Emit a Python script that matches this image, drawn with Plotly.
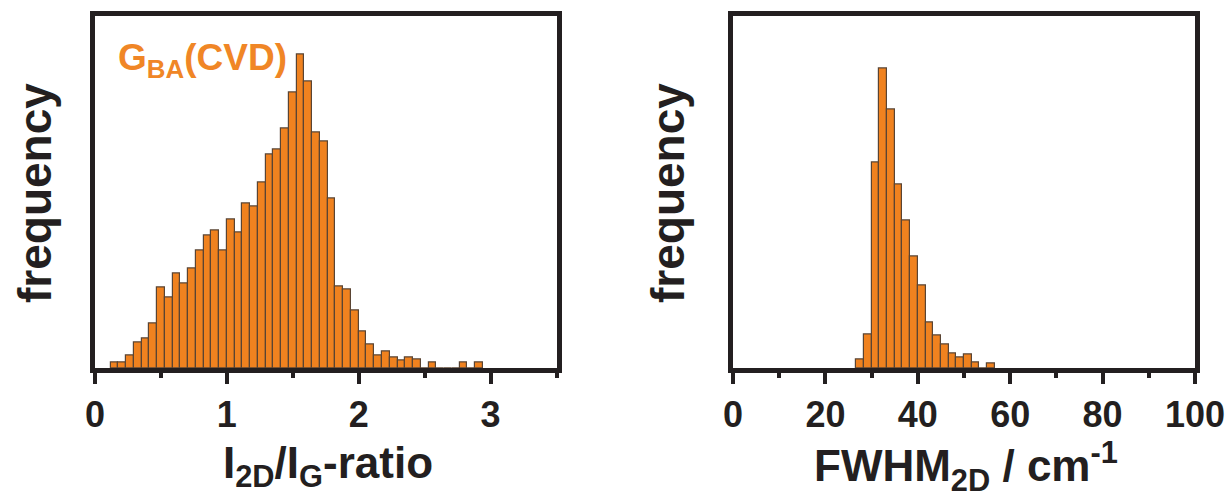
import plotly.graph_objects as go

# ---------------- data ----------------
# Left: I2D/IG-ratio histogram (bin width 1/17, first bin starts at 2/17)
ratio_bin_width = 1 / 17
ratio_first_bin = 2
ratio_counts = [5.7, 5.7, 12.3, 25.3, 29.7, 44.7, 80.7, 70.7, 94.7, 85.0,
                99.7, 118.0, 132.3, 137.3, 118.0, 148.7, 135.7, 164.7, 161.3, 185.7,
                213.7, 218.3, 239.7, 275.3, 314.0, 286.7, 236.0, 226.3, 169.3, 82.0,
                78.7, 57.3, 36.7, 24.0, 12.3, 17.0, 10.7, 7.3, 10.7, 8.7,
                0, 6.0, 0, 0, 0, 6.0, 0, 6.0]
ratio_centers = [(ratio_first_bin + i + 0.5) * ratio_bin_width for i in range(len(ratio_counts))]

# Right: FWHM2D histogram (bin width 5/3 cm-1, first bin starts at 80/3)
fwhm_bin_width = 5 / 3
fwhm_first_edge = 80 / 3
fwhm_counts = [8.7, 33.7, 205.3, 298.3, 257.7, 183.0, 147.0, 111.0, 82.0, 45.0,
               32.3, 23.3, 14.7, 10.3, 13.7, 5.0, 0, 4.7]
fwhm_centers = [fwhm_first_edge + (i + 0.5) * fwhm_bin_width for i in range(len(fwhm_counts))]

ratio_ticks = [0, 1, 2, 3]
fwhm_ticks = [0, 20, 40, 60, 80, 100]

# ---------------- style ----------------
W, H = 1226, 498
BAR_FILL = "#F0821F"
BAR_EDGE = "#5a4433"
FRAME = "#231f20"
FONT = "Liberation Sans, Arial, Helvetica, sans-serif"

def px_x(p):
    return p / W

def px_y(p):
    return 1 - p / H

fig = go.Figure()

fig.add_trace(go.Bar(x=ratio_centers, y=ratio_counts, width=ratio_bin_width,
                     marker=dict(color=BAR_FILL, line=dict(color=BAR_EDGE, width=1.2)),
                     xaxis="x", yaxis="y", showlegend=False))
fig.add_trace(go.Bar(x=fwhm_centers, y=fwhm_counts, width=fwhm_bin_width,
                     marker=dict(color=BAR_FILL, line=dict(color=BAR_EDGE, width=1.2)),
                     xaxis="x2", yaxis="y2", showlegend=False))

y_dom = [px_y(368), px_y(15.5)]

common_x = dict(showline=True, linewidth=5, linecolor=FRAME, mirror=True,
                showgrid=False, zeroline=False, ticks="outside", ticklen=11,
                tickwidth=4, tickcolor=FRAME, automargin=False,
                tickfont=dict(family=FONT, size=36, color=FRAME, weight="bold"))
common_y = dict(showline=True, linewidth=5, linecolor=FRAME, mirror=True,
                showgrid=False, zeroline=False, showticklabels=False, ticks="",
                automargin=False)

fig.update_layout(
    template="none",
    width=W, height=H,
    margin=dict(l=0, r=0, t=0, b=0, autoexpand=False),
    paper_bgcolor="white", plot_bgcolor="white",
    bargap=0,
    xaxis=dict(domain=[px_x(95), px_x(556.5)], range=[0, 3.5],
               tickvals=ratio_ticks, ticktext=[str(v) for v in ratio_ticks],
               minor=dict(ticks="outside", dtick=0.5, tick0=0, ticklen=5, tickwidth=4, tickcolor=FRAME),
               anchor="y", **common_x),
    yaxis=dict(domain=y_dom, range=[0, 352.5], anchor="x", **common_y),
    xaxis2=dict(domain=[px_x(733), px_x(1195)], range=[0, 100],
                tickvals=fwhm_ticks, ticktext=[str(v) for v in fwhm_ticks],
                minor=dict(ticks="outside", dtick=10, tick0=0, ticklen=5, tickwidth=4, tickcolor=FRAME),
                anchor="y2", **common_x),
    yaxis2=dict(domain=y_dom, range=[0, 351.5], anchor="x2", **common_y),
)

title_font = dict(family=FONT, size=44, color=FRAME, weight="bold")
freq_font = dict(family=FONT, size=46, color=FRAME, weight="bold")

annotations = [
    dict(text="I<sub>2D</sub>/I<sub>G</sub>-ratio", x=px_x(328), y=px_y(466),
         xref="paper", yref="paper", xanchor="center", yanchor="middle",
         showarrow=False, font=title_font),
    dict(text="FWHM<sub>2D</sub> / cm<sup>-1</sup>", x=px_x(966), y=px_y(466),
         xref="paper", yref="paper", xanchor="center", yanchor="middle",
         showarrow=False, font=title_font),
    dict(text="frequency", x=px_x(35), y=px_y(193), textangle=-90,
         xref="paper", yref="paper", xanchor="center", yanchor="middle",
         showarrow=False, font=freq_font),
    dict(text="frequency", x=px_x(668), y=px_y(193), textangle=-90,
         xref="paper", yref="paper", xanchor="center", yanchor="middle",
         showarrow=False, font=freq_font),
    dict(text="G<sub>BA</sub>(CVD)", x=px_x(116), y=px_y(60),
         xref="paper", yref="paper", xanchor="left", yanchor="middle",
         showarrow=False, font=dict(family=FONT, size=37, color="#F08626", weight="bold")),
]
fig.update_layout(annotations=annotations)

fig.write_html("out.html")
